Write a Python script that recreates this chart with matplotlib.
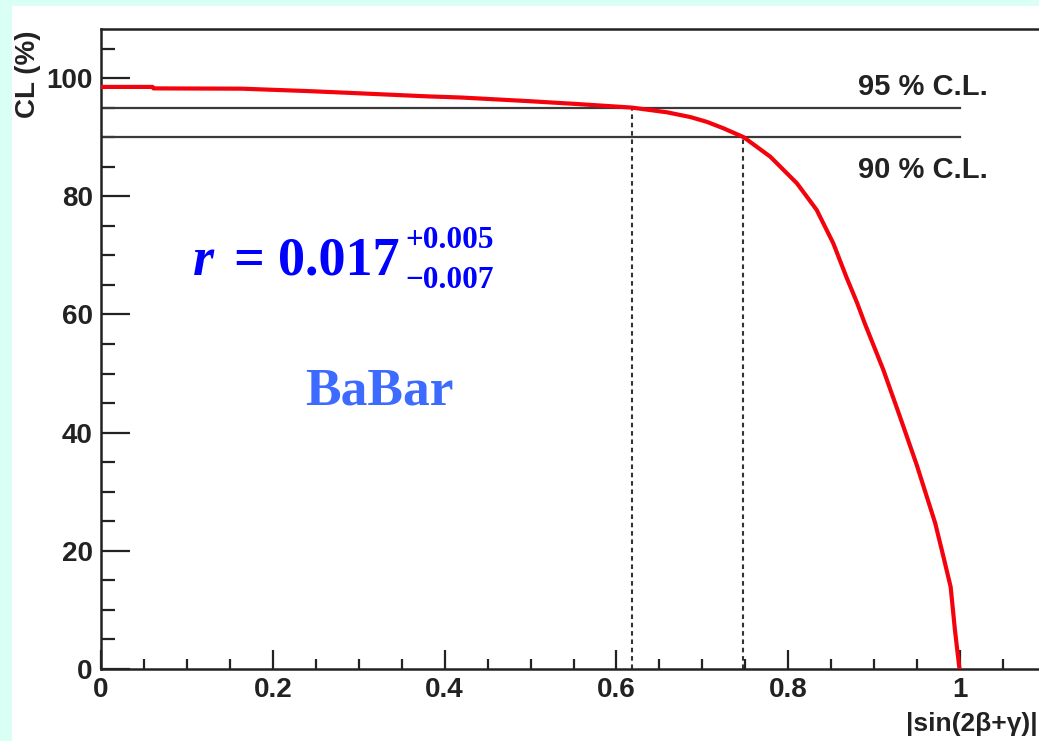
import matplotlib.pyplot as plt
import matplotlib.patches as patches
from matplotlib.ticker import MultipleLocator

# CL curve
cl_x = [0, 0.06, 0.061, 0.164, 0.24, 0.288, 0.334, 0.38, 0.42, 0.497, 0.555, 0.618,
        0.659, 0.686, 0.705, 0.7245, 0.748, 0.779, 0.810, 0.833, 0.8525, 0.868, 0.880,
        0.889, 0.9107, 0.930, 0.9496, 0.971, 0.9806, 0.989, 0.994, 0.9993]
cl_y = [98.5, 98.5, 98.25, 98.2, 97.8, 97.5, 97.2, 96.9, 96.7, 96.1, 95.6, 95.0,
        94.2, 93.4, 92.6, 91.5, 90.0, 86.7, 82.2, 77.7, 72.0, 66.2, 62.0,
        58.5, 50.6, 42.7, 34.5, 24.7, 19.0, 13.9, 6.6, 0.0]

cl_levels = [95, 90]
cl_labels = ['95 % C.L.', '90 % C.L.']
cl_cross = [0.618, 0.747]
x_ticks = [0, 0.2, 0.4, 0.6, 0.8, 1.0]
x_ticklabels = ['0', '0.2', '0.4', '0.6', '0.8', '1']
y_ticks = [0, 20, 40, 60, 80, 100]

W, H = 1039, 741
fig = plt.figure(figsize=(W / 100, H / 100), dpi=100, facecolor='#dafff5')
fig.patches.append(patches.Rectangle((12 / W, 0), 1, 1 - 6 / H, transform=fig.transFigure,
                                     facecolor='white', edgecolor='none', zorder=-10))

ax = fig.add_axes([101 / W, 1 - 669 / H, (1046 - 101) / W, (669 - 29) / H])
ax.set_facecolor('white')
ax.set_xlim(0, 1.1)
ax.set_ylim(0, 108.3)

ax.plot(cl_x, cl_y, color='red', lw=3, zorder=3, solid_joinstyle='round')
ax.plot(cl_x, cl_y, color='#3030ff', lw=0.8, ls=(0, (1, 5)), zorder=4)

for lvl, lab, xc in zip(cl_levels, cl_labels, cl_cross):
    ax.plot([0, 1.0], [lvl, lvl], color='#3a3a3a', lw=1.6, zorder=2)
    ax.plot([xc, xc], [0, lvl], color='#333333', lw=1.5, ls=(0, (2.2, 1.8)), zorder=2)

lab_font = dict(fontsize=21, fontweight='bold', color='#222222', family='Liberation Sans')
ax.text(0.881, 98.5, cl_labels[0], va='center', **lab_font)
ax.text(0.881, 84.4, cl_labels[1], va='center', **lab_font)

# r = 0.017 +0.005 -0.007
serif = dict(family='Liberation Serif', fontweight='bold', color='#0000ff', va='baseline')
ax.text(0.1071, 66.7, 'r', fontsize=39, style='italic', **serif)
ax.text(0.1537, 66.7, '=', fontsize=39, **serif)
ax.text(0.206, 66.7, '0.017', fontsize=39, **serif)
ax.text(0.3539, 71.3, '+0.005', fontsize=22.5, **serif)
ax.text(0.3539, 64.5, '\u22120.007', fontsize=22.5, **serif)

ax.text(0.2375, 44.7, 'BaBar', fontsize=38.5, fontweight='bold', family='Liberation Serif',
        color='#3d6bff', va='baseline')

ax.set_xticks(x_ticks)
ax.set_xticklabels(x_ticklabels)
ax.set_yticks(y_ticks)
ax.xaxis.set_minor_locator(MultipleLocator(0.05))
ax.yaxis.set_minor_locator(MultipleLocator(5))
ax.tick_params(which='both', direction='in', width=1.6, color='#222222',
               labelsize=20, top=False, right=False, pad=6)
ax.tick_params(axis='x', which='major', length=14)
ax.tick_params(axis='x', which='minor', length=7)
ax.tick_params(axis='y', which='major', length=21)
ax.tick_params(axis='y', which='minor', length=10)
for lab in ax.get_xticklabels() + ax.get_yticklabels():
    lab.set_fontweight('bold')
    lab.set_family('Liberation Sans')
    lab.set_color('#222222')

for s in ['left', 'bottom', 'top']:
    ax.spines[s].set_linewidth(1.8)
    ax.spines[s].set_color('#222222')
ax.spines['right'].set_visible(False)

fig.text(28 / W, 1 - 30 / H, 'CL (%)', rotation=90, ha='center', va='top', fontsize=20,
         fontweight='bold', family='Liberation Sans', color='#222222')
fig.text(1038 / W, 1 - 731 / H, '|sin(2β+γ)|', ha='right', va='baseline', fontsize=19,
         fontweight='bold', family='Liberation Sans', color='#222222')

fig.savefig('out.png', dpi=100, facecolor=fig.get_facecolor())
